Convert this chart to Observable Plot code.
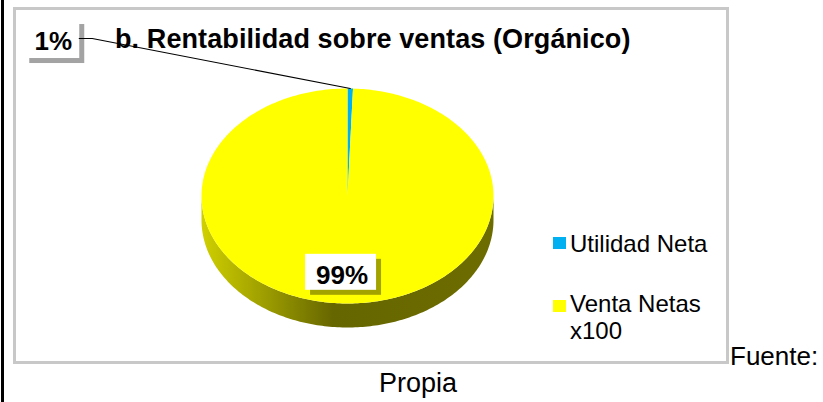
<!DOCTYPE html>
<html><head><meta charset="utf-8">
<script src="https://cdn.jsdelivr.net/npm/d3@7"></script>
<script src="https://cdn.jsdelivr.net/npm/@observablehq/plot@0.6"></script>
<style>
body{margin:0;background:#fff;font-family:"Liberation Sans",Arial,sans-serif;color:#000;}
#wrap{position:relative;width:823px;height:402px;overflow:hidden;}
.abs{position:absolute;white-space:nowrap;line-height:1;}
#plot{position:absolute;left:0;top:0;}
</style></head><body><div id="wrap"></div>
<script>
// ---- data ----
const categories = ["Utilidad Neta", "Venta Netas x100"];
const values = [0.6, 99.4];
const labels = ["1%", "99%"];
const colors = ["#00b0f0", "#ffff00"];
const legendLines = [["Utilidad Neta"], ["Venta Netas", "x100"]];
const title = "b. Rentabilidad sobre ventas (Orgánico)";
const source = ["Fuente:", "Propia"];

// ---- layout ----
const W = 823, H = 402;
const cx = 347, cy = 195.5, rx = 146, ry = 107.5, depthPx = 24;
const depth = depthPx / ry;
const deg = Math.PI / 180;

const pie = d3.pie().sort(null).startAngle(0).endAngle(2 * Math.PI)(values);

function arcPts(a0, a1, off = 0) {
  const n = Math.max(2, Math.ceil((a1 - a0) / deg) + 1);
  return d3.range(n).map(i => {
    const a = a0 + (a1 - a0) * i / (n - 1);
    return {x: Math.sin(a), y: Math.cos(a) - off};
  });
}

// top face polygons
const topPts = [];
pie.forEach((s, i) => {
  const pts = [{x: 0, y: 0}, ...arcPts(s.startAngle, s.endAngle), {x: 0, y: 0}];
  pts.forEach(p => topPts.push({...p, cat: categories[i]}));
});

// side walls (front half only: angles between 90° and 270°)
const sides = [];
pie.forEach((s, i) => {
  const a0 = Math.max(s.startAngle, Math.PI / 2), a1 = Math.min(s.endAngle, 3 * Math.PI / 2);
  if (a1 > a0) {
    const up = arcPts(a0, a1), down = arcPts(a0, a1, depth).reverse();
    sides.push({i, pts: [...up, ...down]});
  }
});

const sideStops = [
  [["0%", "#0a88c0"], ["45%", "#005a7a"], ["100%", "#006080"]],
  [["0%", "#d0d000"], ["45%", "#666600"], ["100%", "#6c6c00"]]
];
const defsMark = () => {
  const g = d3.create("svg:g");
  const defs = g.append("defs");
  sideStops.forEach((stops, i) => {
    const lg = defs.append("linearGradient").attr("id", "side" + i).attr("x1", "0").attr("x2", "1").attr("y1", "0").attr("y2", "0");
    stops.forEach(([o, c]) => lg.append("stop").attr("offset", o).attr("stop-color", c));
  });
  return g.node();
};

// labels: 99% at the slice middle, 1% dragged outside (offset in px from its edge point)
const toData = (px, py) => ({x: (px - cx) / rx, y: (cy - py) / ry});
const labelInfo = pie.map((s, i) => {
  const mid = (s.startAngle + s.endAngle) / 2;
  if (i === 0) {
    const edge = {x: Math.sin(mid), y: Math.cos(mid)};
    const ePx = {x: cx + rx * edge.x, y: cy - ry * edge.y};
    const c = toData(ePx.x - 298, ePx.y - 49.5);
    return {c, w: 55, h: 39, edge, kink: toData(ePx.x - 258, ePx.y - 50), start: toData(ePx.x - 271, ePx.y - 50)};
  }
  const r = 0.71;
  const c = toData(cx + rx * r * Math.sin(mid) - 4.5, cy - ry * r * Math.cos(mid));
  return {c, w: 71, h: 36};
});

const marks = [defsMark];
sides.forEach(s => marks.push(Plot.line(s.pts, {x: "x", y: "y", fill: `url(#side${s.i})`, stroke: "none"})));
marks.push(Plot.line(topPts, {x: "x", y: "y", z: "cat", fill: "cat", stroke: "none"}));
labelInfo.forEach((L, i) => {
  const d = [{x: L.c.x, y: L.c.y, t: labels[i]}];
  const box = {x1: "x", x2: "x", y1: "y", y2: "y", insetLeft: -L.w / 2, insetRight: -L.w / 2, insetTop: -L.h / 2, insetBottom: -L.h / 2};
  marks.push(Plot.rect(d, {...box, fill: "#000", fillOpacity: 0.36, dx: 5, dy: 5}));
  marks.push(Plot.rect(d, {...box, fill: "#fff"}));
  marks.push(Plot.text(d, {x: "x", y: "y", text: "t", fontSize: 26, fontWeight: "bold", fill: "#000", textAnchor: "middle", lineAnchor: "middle", dx: 1, dy: 3, fontFamily: "Liberation Sans, Arial, sans-serif"}));
  if (L.edge) {
    marks.push(Plot.line([L.start, L.kink, L.edge], {x: "x", y: "y", stroke: "#000", strokeWidth: 1.2}));
  }
});

const chart = Plot.plot({
  width: W, height: H, margin: 0,
  style: {background: "transparent", overflow: "visible"},
  x: {domain: [-1, 1], range: [cx - rx, cx + rx], axis: null},
  y: {domain: [-1, 1], range: [cy + ry, cy - ry], axis: null},
  color: {domain: categories, range: colors},
  marks
});
chart.id = "plot";

const wrap = document.getElementById("wrap");
function add(html, css) {
  const el = document.createElement("div");
  el.className = "abs";
  el.style.cssText += css;
  el.textContent = html;
  wrap.appendChild(el);
  return el;
}
// left black rule and chart frame
add("", "left:1px;top:0;width:3px;height:402px;background:#000;");
add("", "left:13px;top:7px;width:716px;height:357px;border:3px solid #c8c8c8;box-sizing:border-box;");
// title
add(title, `left:115px;top:${49 - 0.8465 * 27}px;font-size:27px;font-weight:bold;letter-spacing:0.1px;`);
// legend
const leg = [{sq: 237, base: [252]}, {sq: 300, base: [312, 339]}];
leg.forEach((l, i) => {
  add("", `left:553px;top:${l.sq}px;width:13px;height:12px;background:${colors[i]};`);
  legendLines[i].forEach((t, j) => add(t, `left:570px;top:${l.base[j] - 0.8465 * 24}px;font-size:24px;`));
});
// source text
add(source[0], `left:730px;top:${365 - 0.8465 * 26}px;font-size:26px;`);
add(source[1], `left:0;width:836px;text-align:center;top:${393 - 0.8465 * 27}px;font-size:27px;`);
wrap.appendChild(chart);
</script>
</body></html>
